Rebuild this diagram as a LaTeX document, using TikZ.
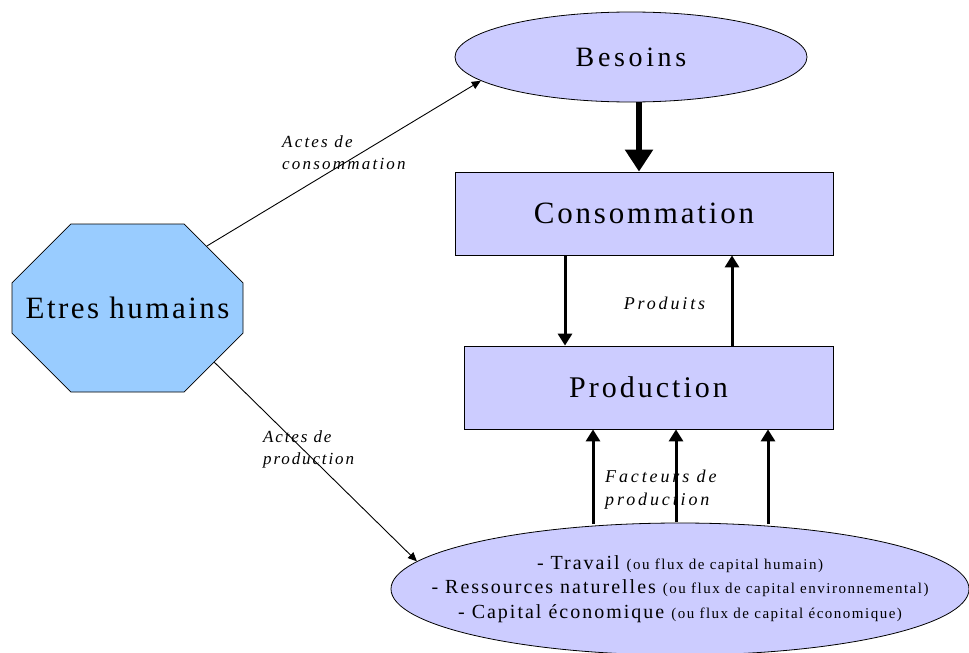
\documentclass[tikz,border=0pt]{standalone}
\usepackage{fontspec}
\setmainfont{Liberation Serif}
\usetikzlibrary{shapes.geometric,shapes.misc,arrows.meta,calc}
\definecolor{lav}{RGB}{204,204,255}
\definecolor{sky}{RGB}{153,204,255}
\newcommand\lsfont[3]{\fontsize{#1}{#2}\selectfont\addfontfeature{LetterSpace=#3}}
\begin{document}
\begin{tikzpicture}[x=1pt,y=-1pt,
  boxnode/.style={draw=black,line width=0.8pt,fill=lav,inner sep=0pt},
  rectbox/.style={boxnode,rectangle},
  ellbox/.style={boxnode,ellipse},
  lbl/.style={inner sep=0pt,align=left},
  thickarrow/.style={line width=6pt,-{Triangle[length=22pt,width=27pt]}},
  midarrow/.style={line width=3pt,-{Triangle[length=12pt,width=14pt]}},
  thinarrow/.style={line width=0.9pt,-{Triangle[length=9pt,width=8pt]}}]
\useasboundingbox (0,0) rectangle (969,653);

\node[ellbox,minimum width=352pt,minimum height=90pt,font=\lsfont{28}{32}{13}] (bes) at (631,57) {Besoins};
\node[rectbox,minimum width=378pt,minimum height=83pt,font=\lsfont{31}{34}{9}] (cons) at (644,213.5) {Consommation};
\node[rectbox,minimum width=369pt,minimum height=83pt,font=\lsfont{30}{34}{10}] (prod) at (648.5,387.5) {Production};
\node[ellbox,minimum width=578pt,minimum height=132pt] (fac) at (680,589) {};
\node[inner sep=0pt,align=center,font=\lsfont{20}{24.5}{10}] (factxt) at (fac.center)
  {- Travail {\fontsize{15}{24.5}\selectfont (ou flux de capital humain)}\\
   - Ressources naturelles {\fontsize{15}{24.5}\selectfont (ou flux de capital environnemental)}\\
   - Capital économique {\fontsize{15}{24.5}\selectfont (ou flux de capital économique)}};
\node[chamfered rectangle,chamfered rectangle xsep=60pt,chamfered rectangle ysep=48pt,
  draw=black,line width=0.8pt,fill=sky,inner sep=0pt,minimum width=231pt,minimum height=168pt,
  font=\lsfont{31}{34}{8}] (hum) at (127.5,308) {Etres humains};

\node[lbl,anchor=west,font=\itshape\lsfont{17}{22}{13}] (lc) at (282,152.5) {Actes de\\consommation};
\node[lbl,anchor=west,font=\itshape\lsfont{17}{22}{11}] (lp) at (263,449) {Actes de\\production};
\node[lbl,font=\itshape\lsfont{18}{22}{16}] (lprod) at (664.5,303) {Produits};
\node[lbl,anchor=west,font=\itshape\lsfont{18}{23}{16}] (lfac) at (605,490) {Facteurs de\\production};

\coordinate (xa) at (565,0);
\coordinate (xb) at (732,0);
\coordinate (t1) at (593,524);
\coordinate (t2) at (676,522);
\coordinate (t3) at (768,524);

\draw[thickarrow] ([xshift=8pt]bes.south) -- ([xshift=-5pt]cons.north);
\draw[midarrow] (xa |- cons.south) -- (xa |- prod.north);
\draw[midarrow] (xb |- prod.north) -- (xb |- cons.south);
\draw[midarrow] (t1) -- (t1 |- prod.south);
\draw[midarrow] (t2) -- (t2 |- prod.south);
\draw[midarrow] (t3) -- (t3 |- prod.south);
\draw[thinarrow] (hum.38) -- (bes.189);
\draw[thinarrow] (hum.-32) -- (fac.174);
\end{tikzpicture}
\end{document}
